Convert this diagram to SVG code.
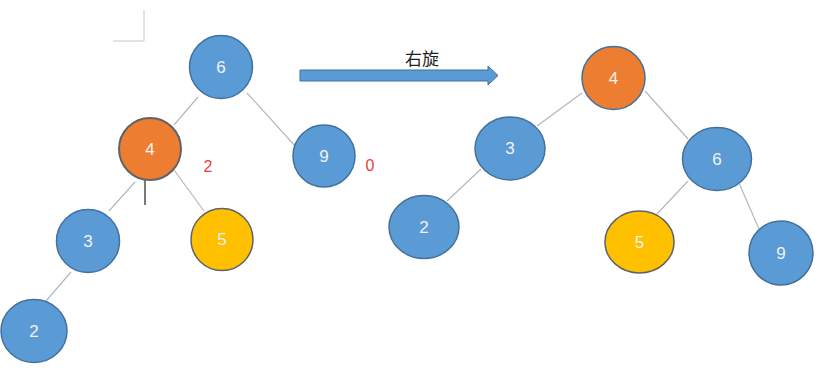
<svg xmlns="http://www.w3.org/2000/svg" width="839" height="391" viewBox="0 0 839 391">
<style>
.blue{fill:#5b9bd5;stroke:#41719c;stroke-width:1.5}
.orange{fill:#ed7d31;stroke:#5f6368;stroke-width:2}
.yellow{fill:#ffc000;stroke:#5f6368;stroke-width:1.5}
.lbl{font-family:"Liberation Sans",Arial,sans-serif;font-size:17px;fill:#f2f2f2;text-anchor:middle;dominant-baseline:central}
.red{font-family:"Liberation Sans",Arial,sans-serif;font-size:16px;fill:#e8413c;text-anchor:middle;dominant-baseline:central}
.edge{stroke:#b4b8bd;stroke-width:1.2;fill:none}
</style>
<rect width="839" height="391" fill="#ffffff"/>
<path d="M113 41H144V10" fill="none" stroke="#c8c8c8" stroke-width="1"/>
<g id="connectors">
<line class="edge" x1="198" y1="97" x2="174" y2="125"/>
<line class="edge" x1="247" y1="93" x2="296" y2="147"/>
<line class="edge" x1="135" y1="182" x2="109" y2="211"/>
<line class="edge" x1="174" y1="170" x2="204" y2="211" stroke="#9cbfdc"/>
<line class="edge" x1="71" y1="272" x2="46" y2="301"/>
<line x1="145" y1="180" x2="145" y2="205" stroke="#333" stroke-width="1.3"/>
<line class="edge" x1="582" y1="93" x2="537" y2="126"/>
<line class="edge" x1="645" y1="91" x2="688" y2="139"/>
<line class="edge" x1="481" y1="169" x2="447" y2="201"/>
<line class="edge" x1="688" y1="181" x2="657" y2="214"/>
<line class="edge" x1="739" y1="183" x2="759" y2="229"/>
</g>
<g id="arrow">
<path d="M300 70H488V66L498 75.5L488 85V81H300Z" fill="#5b9bd5" stroke="#41719c" stroke-width="1"/>
<text x="422" y="57" font-family="'Noto Sans CJK SC','Liberation Sans',sans-serif" font-size="17" fill="#222" text-anchor="middle" dominant-baseline="central">右旋</text>
</g>
<g id="L6"><circle class="blue" cx="221" cy="67" r="31.5"/><text class="lbl" x="221" y="67">6</text></g>
<g id="L4"><circle class="orange" cx="150" cy="149" r="31"/><text class="lbl" x="150" y="149">4</text></g>
<g id="L9"><ellipse class="blue" cx="324" cy="156" rx="31" ry="31"/><text class="lbl" x="324" y="156">9</text></g>
<g id="L3"><ellipse class="blue" cx="88" cy="241" rx="31.5" ry="31.5"/><text class="lbl" x="88" y="241">3</text></g>
<g id="L5"><ellipse class="yellow" cx="222" cy="239.5" rx="31" ry="31"/><text class="lbl" x="222" y="239.5">5</text></g>
<g id="L2"><ellipse class="blue" cx="34" cy="331" rx="33" ry="31.5"/><text class="lbl" x="34" y="331">2</text></g>
<text class="red" x="208" y="166">2</text>
<text class="red" x="370" y="165">0</text>
<g id="R4"><ellipse class="blue" cx="613.5" cy="78" rx="31.5" ry="31.5" style="fill:#ed7d31"/><text class="lbl" x="613.5" y="78">4</text></g>
<g id="R3"><ellipse class="blue" cx="510" cy="148.5" rx="35" ry="31.5"/><text class="lbl" x="510" y="148.5">3</text></g>
<g id="R6"><ellipse class="blue" cx="717" cy="159" rx="34.5" ry="31.5"/><text class="lbl" x="717" y="159">6</text></g>
<g id="R2"><ellipse class="blue" cx="424" cy="227" rx="35" ry="31.5"/><text class="lbl" x="424" y="227">2</text></g>
<g id="R5"><ellipse class="yellow" cx="639.5" cy="242" rx="34.5" ry="31"/><text class="lbl" x="639.5" y="242">5</text></g>
<g id="R9"><ellipse class="blue" cx="781" cy="253" rx="32" ry="32"/><text class="lbl" x="781" y="253">9</text></g>
</svg>
